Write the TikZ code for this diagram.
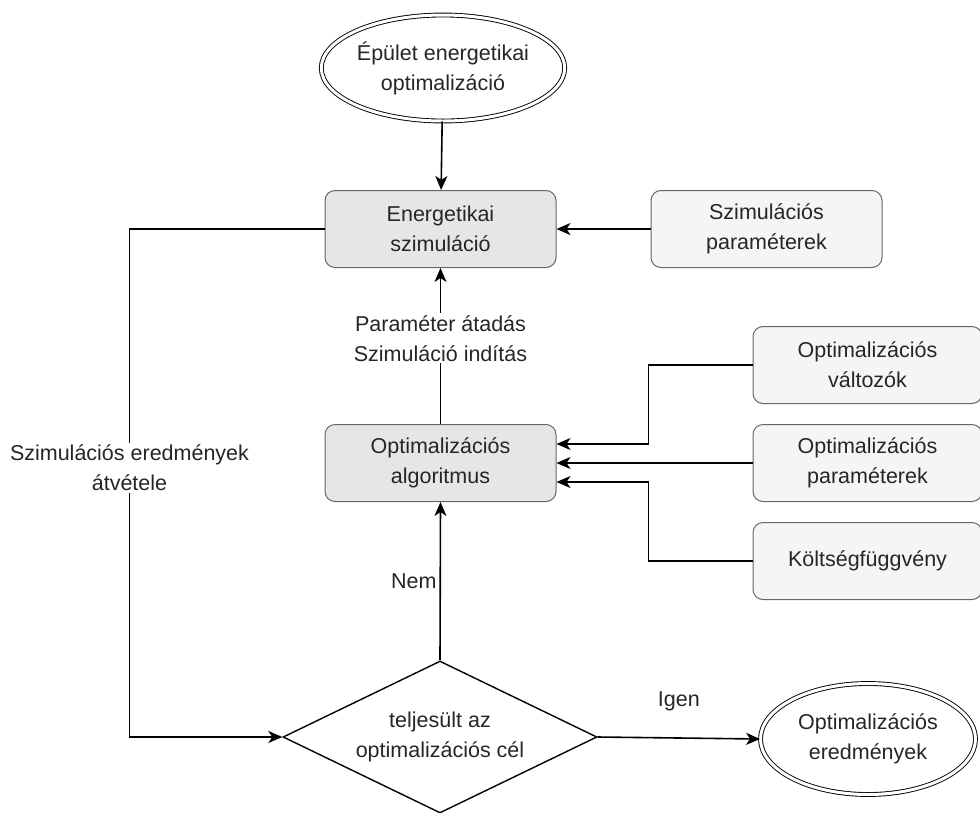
\documentclass[tikz,border=0pt]{standalone}
\usepackage{fontspec}
\setmainfont{Liberation Sans}
\usetikzlibrary{shapes.geometric,arrows.meta}
\definecolor{mainfill}{HTML}{E6E6E6}
\definecolor{sidefill}{HTML}{F5F5F5}
\definecolor{boxline}{HTML}{666666}
\definecolor{txt}{HTML}{262626}
\begin{document}
\begin{tikzpicture}[x=1pt,y=-1pt,
  font=\fontsize{21.5}{30}\selectfont,
  box/.style={draw=boxline, rounded corners=10pt, minimum width=231pt, minimum height=77pt, align=center, line width=1pt, text=txt},
  mainbox/.style={box, fill=mainfill},
  sidebox/.style={box, fill=sidefill},
  term/.style={ellipse, draw=black, double, double distance=3pt, line width=0.9pt, align=center, inner sep=0pt, text=txt},
  dec/.style={diamond, draw=black, line width=1.4pt, align=center, inner sep=0pt, aspect=2, minimum width=314pt, minimum height=152pt, text=txt},
  arr/.style={-{Stealth[length=14pt,width=12pt,inset=4pt]}, line width=1.6pt},
  lbl/.style={fill=white, align=center, text=txt, inner sep=2pt}]
\useasboundingbox (0,0) rectangle (980,812);

\node[term, minimum width=238pt, minimum height=106pt] (top) at (443,68) {Épület energetikai\\optimalizáció};
\node[mainbox] (sim) at (440.5,229) {Energetikai\\szimuláció};
\node[sidebox] (sp) at (766.5,229) {Szimulációs\\paraméterek};
\node[mainbox] (oa) at (440.5,463) {Optimalizációs\\algoritmus};
\node[sidebox, minimum width=229pt] (ov) at (867.5,365) {Optimalizációs\\változók};
\node[sidebox, minimum width=229pt] (op) at (867.5,463) {Optimalizációs\\paraméterek};
\node[sidebox, minimum width=229pt] (kf) at (867.5,561) {Költségfüggvény};
\node[dec] (dc) at (440,737) {teljesült az\\optimalizációs cél};
\node[term, minimum width=215pt, minimum height=111pt] (res) at (868,739) {Optimalizációs\\eredmények};

\draw[arr] (top) -- (sim);
\draw[arr] (sp) -- (sim);
\draw[arr] (oa) -- node[lbl, pos=0.55]{Paraméter átadás\\Szimuláció indítás} (sim);
\draw[arr] (ov.west) -- ++(-104,0) |- ([yshift=19pt]oa.east);
\draw[arr] (op) -- (oa);
\draw[arr] (kf.west) -- ++(-104,0) |- ([yshift=-19pt]oa.east);
\draw[arr] (sim.west) -- ++(-195,0) coordinate (c1) -- node[lbl, pos=0.47]{Szimulációs eredmények\\átvétele} (c1 |- dc.west) -- (dc.west);
\draw[arr] (dc.north) -- node[left, text=txt, inner sep=3pt]{Nem} (oa.south);
\draw[arr] (dc.east) -- node[above=26pt, text=txt, inner sep=0pt]{Igen} (res.west);
\end{tikzpicture}
\end{document}
